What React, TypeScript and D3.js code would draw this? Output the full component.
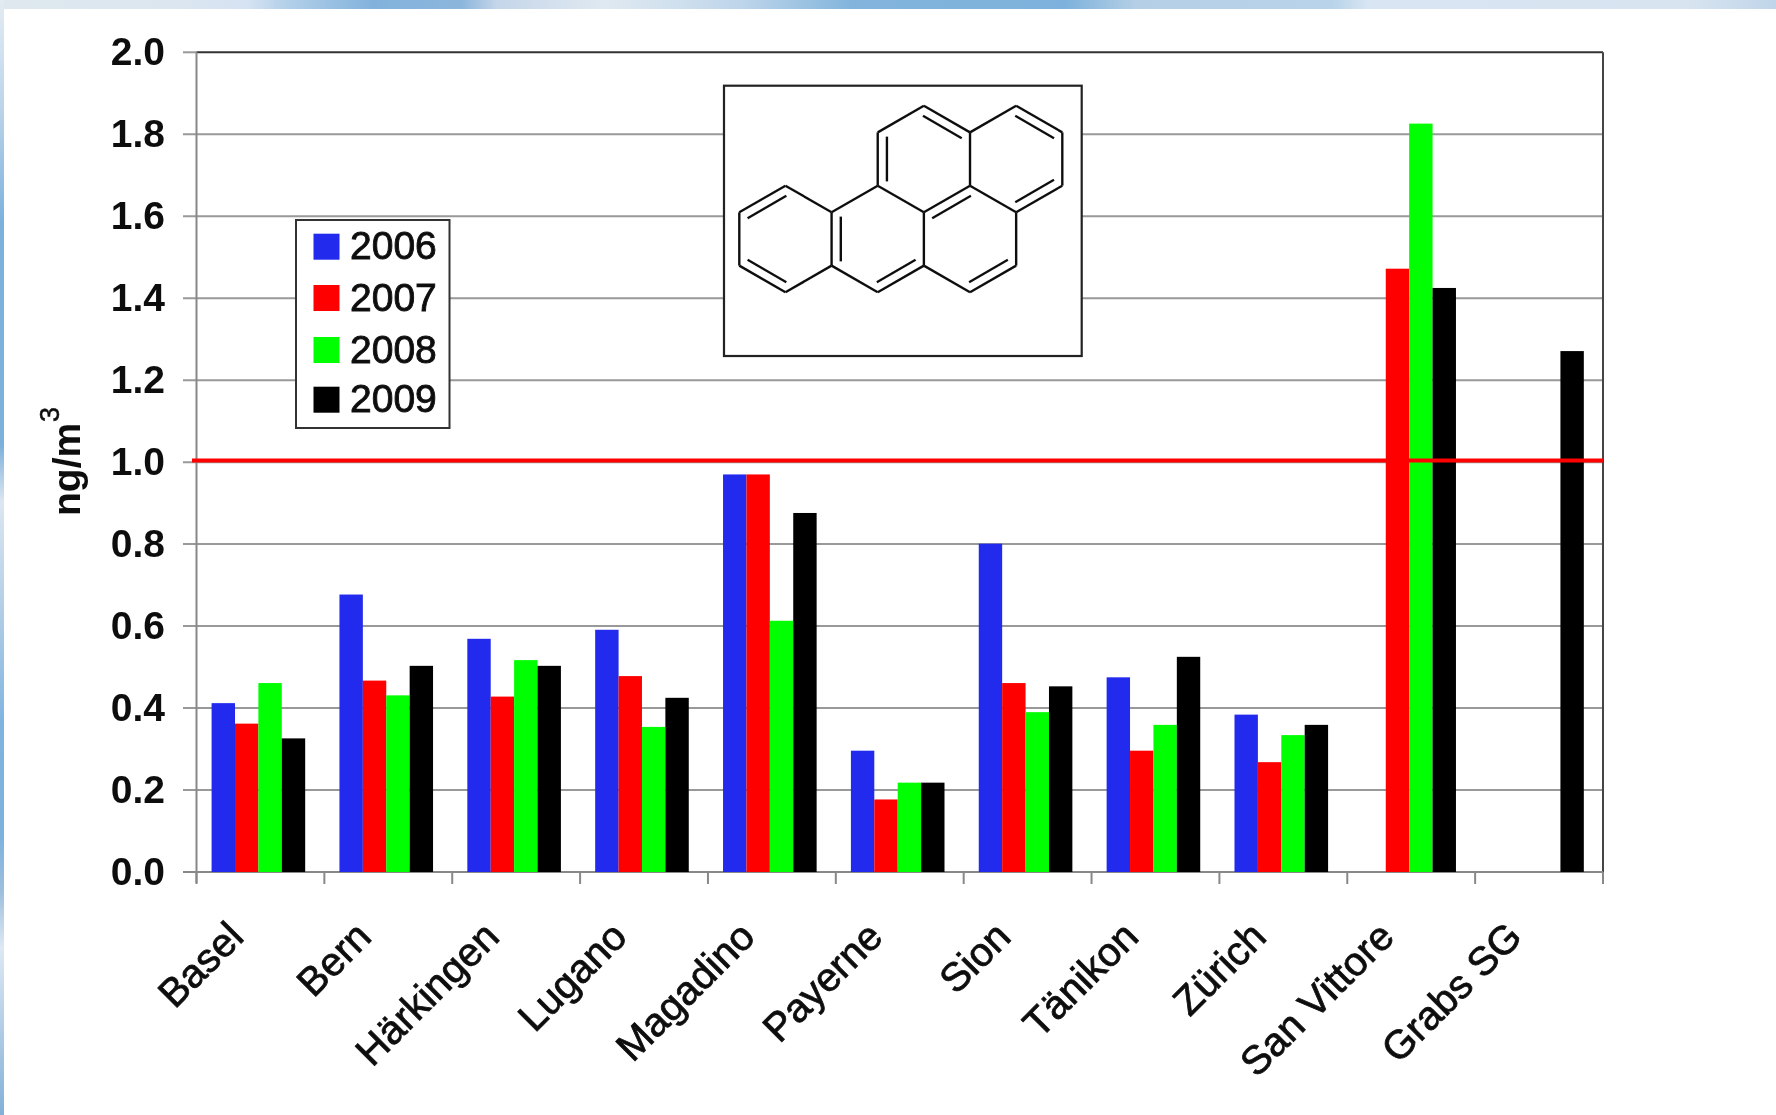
import React from "react";
import * as d3 from "d3";

const categories = ["Basel","Bern","Härkingen","Lugano","Magadino","Payerne","Sion","Tänikon","Zürich","San Vittore","Grabs SG"];
const years = ["2006","2007","2008","2009"];
const v2006 = [0.412,0.677,0.569,0.591,0.97,0.296,0.801,0.475,0.384,null,null];
const v2007 = [0.362,0.467,0.428,0.478,0.97,0.177,0.461,0.296,0.268,1.472,null];
const v2008 = [0.461,0.431,0.517,0.354,0.613,0.218,0.39,0.359,0.334,1.826,null];
const v2009 = [0.326,0.503,0.503,0.425,0.876,0.218,0.453,0.525,0.359,1.425,1.271];
const seriesValues = [v2006,v2007,v2008,v2009];
const colors = ["#2229EE","#FF0000","#00FF00","#000000"];
const yTicks = ["0.0","0.2","0.4","0.6","0.8","1.0","1.2","1.4","1.6","1.8","2.0"];
const limitValue = 1.004;

// Inset molecule on a hexagonal lattice: [column, level]
const bonds: number[][][] = [
  [[0,4],[1,3]],[[1,3],[2,4]],[[2,4],[2,6]],[[2,6],[1,7]],[[1,7],[0,6]],[[0,6],[0,4]],
  [[2,4],[3,3]],[[3,3],[4,4]],[[4,4],[4,6]],[[4,6],[3,7]],[[3,7],[2,6]],
  [[3,3],[3,1]],[[3,1],[4,0]],[[4,0],[5,1]],[[5,1],[5,3]],[[5,3],[4,4]],
  [[5,3],[6,4]],[[6,4],[6,6]],[[6,6],[5,7]],[[5,7],[4,6]],
  [[5,1],[6,0]],[[6,0],[7,1]],[[7,1],[7,3]],[[7,3],[6,4]],
];
// Second strokes of the double bonds: [from, to, centre of the ring they lean into]
const innerBonds: number[][][] = [
  [[0,4],[1,3],[1,5]],[[0,6],[1,7],[1,5]],[[2,4],[2,6],[3,5]],
  [[3,3],[3,1],[4,2]],[[4,0],[5,1],[4,2]],
  [[6,0],[7,1],[6,2]],[[7,3],[6,4],[6,2]],
  [[5,3],[4,4],[5,5]],[[3,7],[4,6],[3,5]],[[5,7],[6,6],[5,5]],
];

const topStops: [number,string][] = [[0,"#dfe8ee"],[0.1,"#dbe6f0"],[0.14,"#d5e2f2"],[0.16,"#b5d1ea"],[0.21,"#82b2dc"],[0.26,"#8cb6dc"],[0.28,"#c5d6ea"],[0.34,"#e0e9f1"],[0.38,"#d0e0ee"],[0.42,"#bcd4ea"],[0.48,"#82b4dc"],[0.6,"#7eb2dc"],[0.64,"#b5cfe6"],[0.75,"#b8d3ea"],[0.77,"#d8e5f2"],[0.95,"#d8e4f0"],[1,"#c0d5ea"]];
const leftStops: [number,string][] = [[0,"#e3ebf0"],[0.05,"#cfe0f0"],[0.1,"#b9d3e9"],[0.2,"#7cb1dd"],[0.4,"#7db1dc"],[0.45,"#dce6f0"],[0.55,"#b0cde6"],[0.65,"#7fb4e0"],[0.75,"#7db2dd"],[0.8,"#9dbfdd"],[0.85,"#dde8f3"],[1,"#82b0d8"]];

const W = 1776, H = 1115;
const L = 196.5, R = 1603, T = 52.3, B = 872;
const FONT = "'Liberation Sans', Arial, sans-serif";

export default function App() {
  const y = d3.scaleLinear().domain([0, 2]).range([B, T]);
  const x0 = d3.scaleBand<string>().domain(categories).range([L, R]);
  const bw = x0.bandwidth();
  const x1 = d3.scaleBand<string>().domain(years).range([bw * 0.118, bw * 0.85]);
  const mx = d3.scaleLinear().domain([0, 7]).range([739.3, 1062.3]);
  const my = d3.scaleLinear().domain([0, 7]).range([105.7, 292.3]);
  const pt = (p: number[]) => [mx(p[0]), my(p[1])];
  const line = d3.line();
  const tickXs = [...categories.map((c) => x0(c) as number), R];
  return (
    <svg width={W} height={H} viewBox={`0 0 ${W} ${H}`} style={{ position: "absolute", left: 0, top: 0, background: "#fff" }} fontFamily={FONT}>
      <defs>
        <linearGradient id="topG" x1="0" x2="1" y1="0" y2="0">
          {topStops.map(([o, c], i) => <stop key={i} offset={o} stopColor={c} />)}
        </linearGradient>
        <linearGradient id="leftG" x1="0" x2="0" y1="0" y2="1">
          {leftStops.map(([o, c], i) => <stop key={i} offset={o} stopColor={c} />)}
        </linearGradient>
        <filter id="soft" x="-2%" y="-2%" width="104%" height="104%"><feGaussianBlur stdDeviation="0.55" /></filter>
      </defs>
      <rect x={0} y={0} width={W} height={9} fill="url(#topG)" />
      <rect x={0} y={0} width={4} height={H} fill="url(#leftG)" />

      <g filter="url(#soft)">
        {yTicks.map((t) => (
          <line key={t} x1={183} x2={t === "2.0" ? L : R} y1={y(+t)} y2={y(+t)} stroke="#999" strokeWidth={2} />
        ))}
        <line x1={L} x2={R} y1={T} y2={T} stroke="#333" strokeWidth={2} />
        <line x1={R} x2={R} y1={T} y2={B} stroke="#444" strokeWidth={2} />
        <line x1={L} x2={L} y1={T} y2={B + 11} stroke="#888" strokeWidth={2} />
        <line x1={183} x2={R} y1={B} y2={B} stroke="#888" strokeWidth={2} />
        {tickXs.map((tx, i) => (
          <line key={i} x1={tx} x2={tx} y1={B} y2={B + 12} stroke="#888" strokeWidth={2} />
        ))}

        {seriesValues.map((vals, s) => (
          <g key={years[s]}>
            {vals.map((v, i) =>
              v == null ? null : (
                <rect key={i} x={(x0(categories[i]) as number) + (x1(years[s]) as number)} y={y(v)} width={x1.bandwidth()} height={B - y(v)} fill={colors[s]} />
              )
            )}
          </g>
        ))}
        <line x1={192} x2={R} y1={y(limitValue)} y2={y(limitValue)} stroke="#FF0000" strokeWidth={4} />

        {yTicks.map((t) => (
          <text key={t} x={165} y={y(+t) + 13} textAnchor="end" fontSize={39} fontWeight="bold" fill="#111">{t}</text>
        ))}
        <text transform="translate(80,516) rotate(-90)" fontSize={39} fontWeight="bold" fill="#111">ng/m</text>
        <text transform="translate(59,422) rotate(-90)" fontSize={27} fill="#111" stroke="#111" strokeWidth={0.5}>3</text>

        {categories.map((c) => {
          const cx = (x0(c) as number) + bw / 2 - 15;
          return (
            <text key={c} transform={`translate(${cx},${B + 67}) rotate(-45)`} textAnchor="end" fontSize={40} fill="#111" stroke="#111" strokeWidth={0.8}>{c}</text>
          );
        })}

        <rect x={296} y={220} width={153.5} height={208} fill="#fff" stroke="#333" strokeWidth={2} />
        {years.map((yr, i) => {
          const cy = [246.7, 298, 350, 399.7][i];
          return (
            <g key={yr}>
              <rect x={313.5} y={cy - 13} width={26} height={26} fill={colors[i]} />
              <text x={350} y={cy + 12.5} fontSize={39} fill="#111" stroke="#111" strokeWidth={0.9}>{yr}</text>
            </g>
          );
        })}

        <rect x={724} y={85.7} width={357.7} height={270.3} fill="#fff" stroke="#222" strokeWidth={2.2} />
        {bonds.map(([a, b], i) => (
          <path key={i} d={line([pt(a), pt(b)] as [number, number][]) as string} stroke="#111" strokeWidth={2.4} fill="none" />
        ))}
        {innerBonds.map(([a, b, c], i) => {
          const [ax, ay] = pt(a), [bx, by] = pt(b), [cx, cy] = pt(c);
          const mxx = (ax + bx) / 2, myy = (ay + by) / 2;
          const dx = cx - mxx, dy = cy - myy, d = Math.hypot(dx, dy);
          const ox = (dx / d) * 9.2, oy = (dy / d) * 9.2;
          const k = 0.84;
          const p1: [number, number] = [mxx + (ax - mxx) * k + ox, myy + (ay - myy) * k + oy];
          const p2: [number, number] = [mxx + (bx - mxx) * k + ox, myy + (by - myy) * k + oy];
          return <path key={i} d={line([p1, p2]) as string} stroke="#111" strokeWidth={2.4} fill="none" />;
        })}
      </g>
    </svg>
  );
}
